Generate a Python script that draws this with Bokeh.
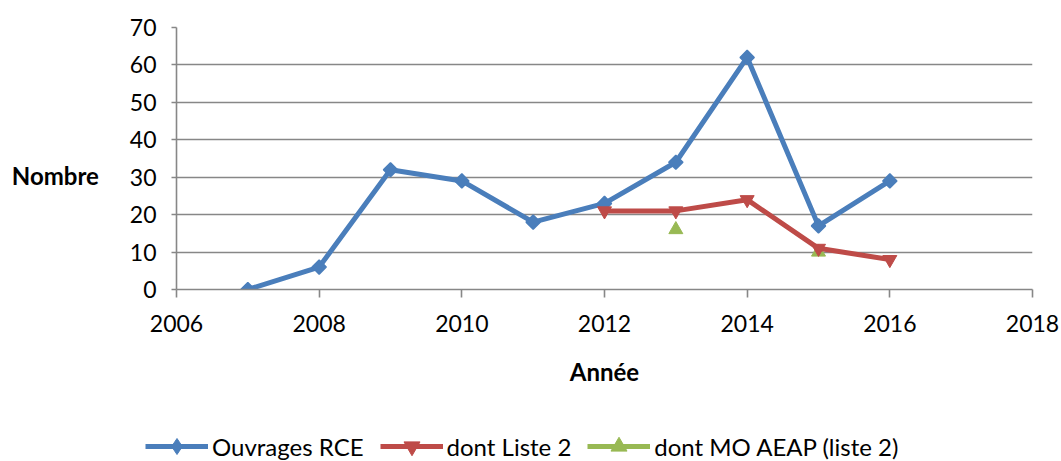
import math
from bokeh.plotting import figure
from bokeh.layouts import column
from bokeh.models import Range1d, FixedTicker, Legend, LegendItem
from bokeh.embed import file_html
from bokeh.resources import INLINE

years_rce = [2007, 2008, 2009, 2010, 2011, 2012, 2013, 2014, 2015, 2016]
ouvrages_rce = [0, 6, 32, 29, 18, 23, 34, 62, 17, 29]
years_l2 = [2012, 2013, 2014, 2015, 2016]
dont_liste2 = [21, 21, 24, 11, 8]
dont_mo_aeap = [float("nan"), 16, float("nan"), 10, float("nan")]
x_ticks = [2006, 2008, 2010, 2012, 2014, 2016, 2018]
y_ticks = [0, 10, 20, 30, 40, 50, 60, 70]
series_names = ["Ouvrages RCE", "dont Liste 2", "dont MO AEAP (liste 2)"]

FONT = "Lato"
GRID = "#878787"
BLUE = "#4a7ebb"
RED = "#be4b48"
GREEN = "#98b954"

p = figure(width=1061, height=405, output_backend="svg", toolbar_location=None,
           x_range=Range1d(2006, 2018), y_range=Range1d(0, 70),
           min_border_left=176, min_border_right=29, min_border_top=27,
           min_border_bottom=116)
p.outline_line_color = None
p.background_fill_color = "white"

p.xgrid.grid_line_color = None
p.ygrid.grid_line_color = GRID
p.ygrid.grid_line_width = 1.6

p.xaxis.ticker = FixedTicker(ticks=x_ticks)
p.yaxis.ticker = FixedTicker(ticks=y_ticks)
for ax in (p.xaxis[0], p.yaxis[0]):
    ax.axis_line_color = GRID
    ax.axis_line_width = 1.6
    ax.major_tick_line_color = GRID
    ax.major_tick_line_width = 1.6
    ax.minor_tick_line_color = None
    ax.major_tick_in = 0
    ax.major_label_text_font = FONT
    ax.major_label_text_font_size = "23px"
    ax.major_label_text_color = "black"
    ax.axis_label_text_font = FONT
    ax.axis_label_text_font_style = "bold"
    ax.axis_label_text_font_size = "24px"
    ax.axis_label_text_color = "black"
p.xaxis.major_tick_out = 8
p.yaxis.major_tick_out = 5
p.xaxis.major_label_standoff = 17
p.yaxis.major_label_standoff = 15

p.xaxis.axis_label = "Année"
p.xaxis.axis_label_standoff = 22

p.yaxis.axis_label = "\nNombre"
p.yaxis.axis_label_orientation = "horizontal"
p.yaxis.axis_label_standoff = 28


def draw(fig, for_legend=False):
    l1 = fig.line(years_rce, ouvrages_rce, line_color=BLUE, line_width=5)
    if for_legend:
        s1 = fig.scatter(years_rce, ouvrages_rce, marker="diamond", size=17,
                         fill_color=BLUE, line_color=BLUE)
    else:
        s1 = fig.scatter(years_rce, ouvrages_rce, marker="square", angle=math.pi / 4,
                         size=10, fill_color=BLUE, line_color=BLUE, line_width=1.5)
    l3 = fig.line(years_l2, dont_mo_aeap, line_color=GREEN, line_width=5)
    s3 = fig.scatter(years_l2, dont_mo_aeap, marker="triangle", size=14,
                     fill_color=GREEN, line_color=GREEN)
    l2 = fig.line(years_l2, dont_liste2, line_color=RED, line_width=5)
    s2 = fig.scatter(years_l2, dont_liste2, marker="inverted_triangle", size=14,
                     fill_color=RED, line_color=RED)
    return [(l1, s1), (l2, s2), (l3, s3)]


draw(p)

# legend strip below the chart (its own small figure, same series styles)
lf = figure(width=1061, height=56, output_backend="svg", toolbar_location=None,
            x_range=Range1d(0, 1), y_range=Range1d(0, 1),
            x_axis_type=None, y_axis_type=None, min_border=0)
lf.outline_line_color = None
lf.grid.visible = False
pairs = draw(lf, for_legend=True)

aligned = "frame_align" in lf.properties()
if aligned:
    lf.frame_align = False
    p.frame_align = False
x0 = 145 if aligned else 0

legend = Legend(items=[LegendItem(label=name, renderers=list(rs))
                       for name, rs in zip(series_names, pairs)],
                orientation="horizontal", location=(x0, -5))
legend.border_line_color = None
legend.background_fill_alpha = 0
legend.label_text_font = FONT
legend.label_text_font_size = "24px"
legend.label_text_color = "black"
legend.glyph_width = 63
legend.glyph_height = 40
legend.spacing = 16
legend.label_standoff = 4
legend.padding = 0
legend.margin = 0
lf.add_layout(legend, "center")

layout = column(p, lf, spacing=0)
open("out.html", "w").write(file_html(layout, INLINE))
